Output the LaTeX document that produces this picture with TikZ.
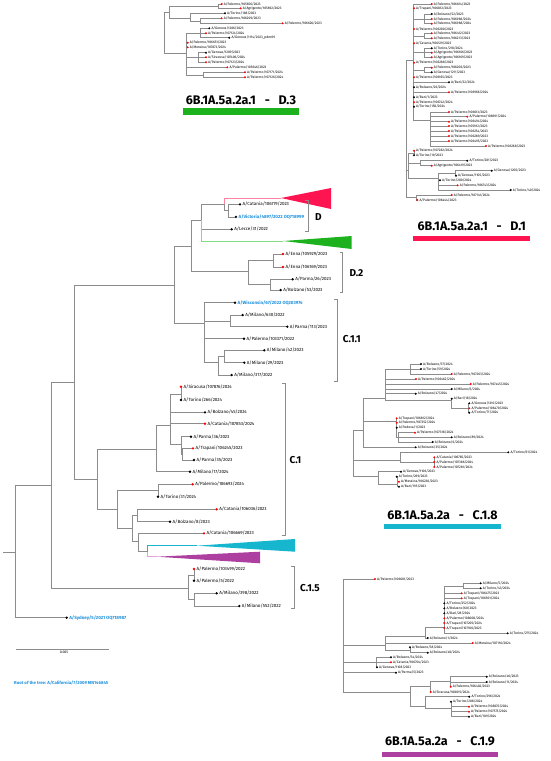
\documentclass[tikz,border=0pt]{standalone}
\usepackage{fontspec}
\setmainfont{Fira Sans}
\usetikzlibrary{positioning}
\definecolor{brgray}{RGB}{140,140,140}
\definecolor{labblue}{RGB}{30,144,220}
\definecolor{dred}{RGB}{255,20,82}
\definecolor{dredl}{RGB}{255,130,160}
\definecolor{dgreen}{RGB}{29,178,29}
\definecolor{dgreenl}{RGB}{130,220,130}
\definecolor{ccyan}{RGB}{22,182,207}
\definecolor{cmag}{RGB}{173,63,160}
\definecolor{cmagl}{RGB}{230,160,220}
\pgfdeclarelayer{bg}
\pgfsetlayers{bg,main}
\tikzset{
  br/.style={draw=brgray, line width=0.6pt},
  bk/.style={circle, fill=black, inner sep=0pt, minimum size=2.6pt},
  rd/.style={circle, fill=red, inner sep=0pt, minimum size=2.6pt},
  sbk/.style={bk, minimum size=2.2pt},
  srd/.style={rd, minimum size=2.2pt},
  lab/.style={anchor=west, inner sep=0.9pt, font=\fontsize{4.5}{5}\selectfont},
  blab/.style={lab, text=labblue, font=\fontsize{4.5}{5}\selectfont\bfseries},
  slab/.style={anchor=west, inner sep=0.7pt, font=\fontsize{3.4}{4}\selectfont},
  clade/.style={anchor=west, inner sep=0pt, font=\fontsize{10}{11}\selectfont\bfseries},
  brk/.style={draw=brgray, line width=0.7pt},
  head/.style={inner sep=0pt, font=\fontsize{12.5}{13}\selectfont\bfseries},
}
\newcommand{\gap}{\hspace{0.7em}-\hspace{0.7em}}

\begin{document}
\begin{tikzpicture}[x=1pt, y=-1pt]
\useasboundingbox (0,0) rectangle (550,761);

% main tree: inner nodes
\coordinate (stem) at (3,552);
\coordinate (n0) at (15,552);
\coordinate (n1) at (51,485.7);
\coordinate (n2) at (74,382.7);
\coordinate (n3) at (174,285);
\coordinate (nDD) at (191.7,246);
\coordinate (nD) at (201.7,220);
\coordinate (nX) at (224,204);
\coordinate (Dcv) at (228,210.5);
\coordinate (nD2) at (248,271.7);
\coordinate (nD2a) at (273,260);
\coordinate (nD2b) at (270.7,284.5);
\coordinate (nC11) at (204,323);
\coordinate (Ca) at (230,321);
\coordinate (Cb) at (218,362);
\coordinate (Cc) at (224,356.5);
\coordinate (nC1) at (97.7,479.3);
\coordinate (c1a) at (156.7,449.3);
\coordinate (c1b) at (170.7,425.7);
\coordinate (c1s) at (181,394);
\coordinate (c1p) at (181,444.3);
\coordinate (c1q) at (182.7,454);
\coordinate (c1c) at (117.3,509.3);
\coordinate (c1e) at (158,490.7);
\coordinate (c1d) at (132.3,528.3);
\coordinate (c1f) at (137.3,515);
\coordinate (c1g) at (138.3,541.7);
\coordinate (c1h) at (147.3,551.7);
\coordinate (n15) at (188.3,588.3);
\coordinate (c15p) at (194,575);
\coordinate (c15m) at (194.3,599.7);

% D.3 subtree
\coordinate (d3) at (164,33);
\coordinate (ua) at (169,12);
\coordinate (u1) at (218,6.2);
\coordinate (u2) at (190,18);
\coordinate (u3) at (200,20.8);
\coordinate (la) at (186,53);
\coordinate (l1) at (200,33.3);
\coordinate (l2) at (198,57.3);
\coordinate (l3) at (203,74.8);

% D.1 subtree
\coordinate (R) at (406.7,128);
\coordinate (T) at (413.3,60);
\coordinate (a1) at (424,19);
\coordinate (a2) at (424,35.8);
\coordinate (a3) at (424,52.7);
\coordinate (a4) at (424,70);
\coordinate (a5) at (430,120);
\coordinate (U) at (408.3,170);
\coordinate (b1) at (414,153);
\coordinate (b2) at (420,163);
\coordinate (b3) at (438.3,178.3);
\coordinate (b4) at (455,173.2);
\coordinate (V) at (416.7,197.5);

% C.1.8 subtree
\coordinate (R8) at (353.3,450);
\coordinate (N1) at (363.3,430);
\coordinate (g1) at (385,398);
\coordinate (g1a) at (410,369);
\coordinate (g1b) at (451.7,400);
\coordinate (g1c) at (468.3,408.3);
\coordinate (g2) at (396.7,421.7);
\coordinate (g3) at (398.3,437);
\coordinate (g4) at (400,460.7);
\coordinate (g5) at (434.3,462);
\coordinate (g6) at (378,476);
\coordinate (g7) at (397,484);

% C.1.9 subtree
\coordinate (R9) at (343.3,630);
\coordinate (h1) at (385,645);
\coordinate (h2) at (425,636);
\coordinate (h3) at (444.3,627);
\coordinate (h4) at (463,585.8);
\coordinate (h5) at (410,650);
\coordinate (h6) at (376,662);
\coordinate (h7) at (410,692);
\coordinate (h8) at (430,686);
\coordinate (h9) at (450.7,681.5);
\coordinate (h10) at (425,706);
\coordinate (h11) at (451,708);

\begin{pgfonlayer}{bg}
\draw[br] (stem) -- (n0);
\foreach \c/\p in {n1/n0, n2/n1, n3/n2, nDD/n3, nD/nDD, nX/nD, Dcv/nX, nD2/nDD,
    nD2a/nD2, nD2b/nD2, nC11/n3, Ca/nC11, Cb/nC11, Cc/Cb, nC1/n2, c1a/nC1,
    c1b/c1a, c1s/c1b, c1p/c1b, c1q/c1p, c1c/nC1, c1e/c1c, c1d/c1c, c1f/c1d,
    c1g/c1d, c1h/c1g, n15/n1, c15p/n15, c15m/n15,
    ua/d3, la/d3, u1/ua, u2/ua, u3/u2, l1/la, l2/la, l3/la,
    T/R, U/R, V/R, a1/T, a2/T, a3/T, a4/T, a5/T, b1/U, b2/U, b3/U, b4/b3,
    N1/R8, g4/R8, g6/R8, g1/N1, g2/N1, g1a/g1, g1b/g1, g1c/g1b, g3/g2, g5/g4, g7/g6,
    h1/R9, h6/R9, h7/R9, h2/h1, h5/h1, h3/h2, h4/h3, h8/h7, h10/h7, h9/h8, h11/h10}
  \draw[br] (\p) |- (\c);
\end{pgfonlayer}

% collapsed clades
\coordinate (tD1) at (281,198);
\coordinate (tD3) at (283.3,241);
\coordinate (tC18) at (196.7,545.7);
\coordinate (tC19) at (156.7,556.7);
\draw[dredl, line width=0.6pt] (nX) |- (tD1);
\draw[dgreenl, line width=0.6pt] (nD) |- (tD3);
\draw[ccyan, line width=0.6pt] (c1h) |- (tC18);
\draw[cmagl, line width=0.6pt] (c1h) |- (tC19);
\fill[dred] (tD1) -- ++(50,-10) -- ++(0,21) -- cycle;
\fill[dgreen] (tD3) -- (351.7,236) -- (351.7,249) -- cycle;
\fill[ccyan] (tC18) -- (295,539) -- (295,551.7) -- cycle;
\fill[cmag] (tC19) -- (260,551.7) -- (260,563.3) -- cycle;

% main tree leaves
\foreach \x/\y/\dc/\pa/\ls/\tx [count=\i] in {
  240/204.3/bk/Dcv/lab/{Catania/106779/2023},
  236/216.8/bk/Dcv/blab/{Victoria/4897/2022 OQ718999},
  231.7/229.3/bk/nD/lab/{Lecce/31/2022},
  283/254/rd/nD2a/lab/{Enna/105929/2023},
  283/267/rd/nD2a/lab/{Enna/106169/2023},
  292.7/279.3/bk/nD2b/lab/{Parma/26/2023},
  280.7/290/bk/nD2b/lab/{Bolzano/53/2023},
  235/302.7/bk/nC11/blab/{Wisconsin/67/2022 OQ203974},
  242.7/315/bk/Ca/lab/{Milano/630/2022},
  287.3/326.7/bk/Ca/lab/{Parma/113/2023},
  244/338.7/bk/nC11/lab/{Palermo/103371/2022},
  264.3/350.3/bk/Cc/lab/{Milano/42/2023},
  244.3/362.7/bk/Cc/lab/{Milano/29/2023},
  231.7/375/bk/Cb/lab/{Milano/317/2022},
  181/386.7/rd/c1s/lab/{Siracusa/107876/2024},
  181/400/bk/c1s/lab/{Torino/266/2024},
  205/412.3/bk/c1b/lab/{Bolzano/45/2024},
  205/423.7/rd/c1b/lab/{Catania/107853/2024},
  191/436.7/bk/c1p/lab/{Parma/36/2023},
  193/448.3/rd/c1q/lab/{Trapani/106245/2023},
  194/460/bk/c1q/lab/{Parma/35/2023},
  190/471.7/bk/c1a/lab/{Milano/17/2024},
  192.7/484.3/rd/c1e/lab/{Palermo/106693/2024},
  158/496.7/bk/c1e/lab/{Torino/31/2024},
  216.7/509.3/rd/c1f/lab/{Catania/106036/2023},
  170/521.7/bk/c1f/lab/{Bolzano/8/2023},
  204/533.3/rd/c1g/lab/{Catania/106669/2023},
  194/569/rd/c15p/lab/{Palermo/103499/2022},
  194/580.7/bk/c15p/lab/{Palermo/5/2022},
  216.7/593.3/bk/c15m/lab/{Milano/398/2022},
  239.3/606/bk/c15m/lab/{Milano/552/2022},
  66.7/617.7/bk/n0/blab/{Sydney/5/2021 OQ718987}} {
  \coordinate (mL\i) at (\x,\y);
  \begin{pgfonlayer}{bg}\draw[br] (\pa) |- (mL\i);\end{pgfonlayer}
  \node[\dc] (mD\i) at (mL\i) {};
  \node[\ls] (mT\i) at (mD\i.east) {A/\tx};
}

% subtree leaves
\foreach \x/\y/\dc/\pa/\tx [count=\i] in {
  221.7/4/srd/u1/{Palermo/105656/2023},
  240.7/8.3/srd/u1/{Agrigento/105692/2023},
  225/13.3/sbk/u2/{Torino/188/2023},
  221.7/18.3/srd/u3/{Palermo/106209/2023},
  282.7/23.3/srd/u3/{Palermo/106626/2023},
  209.3/28.3/sbk/l1/{Genova/1206/2023},
  206/33.3/srd/l1/{Palermo/107124/2024},
  229.3/37.7/sbk/l1/{Genova/1114/2023\_pdm09},
  187.7/42.7/srd/la/{Palermo/106651/2023},
  187.7/47.3/srd/la/{Messina/107873/2024},
  206/52.7/sbk/l2/{Genova/1209/2023},
  206/57.3/srd/l2/{Siracusa/107406/2024},
  206/62.3/srd/l2/{Palermo/107123/2024},
  227.3/67.3/srd/la/{Palermo/105646/2023},
  245/72.3/srd/l3/{Palermo/107171/2024},
  245/77.3/srd/l3/{Palermo/107126/2024},
  431.7/4/srd/T/{Palermo/106614/2023},
  414/8.3/srd/T/{Trapani/106812/2023},
  431.7/14/sbk/a1/{Bolzano/52/2023},
  431.7/19/srd/a1/{Palermo/106986/2024},
  431.7/23.7/srd/a1/{Palermo/106988/2024},
  414/29/srd/T/{Palermo/106200/2023},
  431.7/33.3/srd/a2/{Palermo/106412/2023},
  431.7/38.3/srd/a2/{Palermo/106213/2023},
  414/43.3/srd/T/{Catania/106129/2023},
  431.7/48.3/sbk/a3/{Torino/218/2024},
  431.7/52.7/srd/a3/{Agrigento/106166/2023},
  431.7/57.3/srd/a3/{Agrigento/106169/2023},
  414/62.7/srd/T/{Palermo/106288/2023},
  431.7/67.7/srd/a4/{Palermo/106206/2023},
  431.7/72.3/sbk/a4/{Genova/1211/2023},
  414/77.3/srd/T/{Palermo/106165/2023},
  449/82.3/sbk/T/{Bari/22/2024},
  414/87.3/sbk/T/{Bolzano/26/2024},
  449/92.3/srd/T/{Palermo/106966/2024},
  414/97.3/sbk/T/{Bari/1/2023},
  414/102.3/srd/T/{Palermo/106742/2024},
  414/106.7/sbk/T/{Torino/158/2024},
  449/112/srd/a5/{Palermo/106613/2023},
  467.3/116.7/srd/a5/{Palermo/106691/2024},
  449/121.7/srd/a5/{Palermo/106494/2024},
  449/126/srd/a5/{Palermo/105912/2023},
  449/131/srd/a5/{Palermo/106254/2023},
  449/136/srd/a5/{Palermo/106289/2023},
  449/141/srd/a5/{Palermo/106495/2023},
  486/146/srd/a5/{Palermo/106268/2023},
  414/150.7/srd/b1/{Palermo/107282/2024},
  414/155.3/sbk/b1/{Torino/19/2023},
  467.3/160.7/sbk/b2/{Torino/281/2023},
  431.7/165.7/srd/b2/{Agrigento/106419/2023},
  491.7/170.7/sbk/b4/{Genova/1205/2023},
  456/175.7/sbk/b4/{Genova/1105/2023},
  440/180.3/sbk/b3/{Torino/280/2024},
  457.7/185.3/srd/b3/{Palermo/106743/2024},
  510.7/190/sbk/b3/{Torino/40/2024},
  451.7/195/srd/V/{Palermo/107141/2024},
  417.3/200/srd/V/{Palermo/106444/2023},
  421/364/sbk/g1a/{Bolzano/37/2024},
  421/369/sbk/g1a/{Torino/59/2024},
  451.7/374/srd/g1a/{Palermo/107263/2024},
  416/379/srd/g1/{Palermo/106462/2024},
  470.7/384/srd/g1/{Palermo/107445/2024},
  451.7/389/sbk/g1/{Milano/6/2024},
  415.7/393.7/sbk/g1/{Bolzano/47/2024},
  451.7/398.7/sbk/g1b/{Bari/18/2024},
  469.3/403.3/sbk/g1c/{Genova/1210/2023},
  469.3/408.3/srd/g1c/{Palermo/106470/2024},
  469.3/412.7/sbk/g1c/{Torino/71/2024},
  396.7/418.3/srd/g2/{Trapani/106812/2024},
  396.7/422.7/srd/g2/{Palermo/107352/2024},
  396.7/427.7/sbk/g2/{Padova/1/2023},
  415/432.7/srd/g3/{Palermo/107318/2024},
  451.7/437.3/sbk/g3/{Bolzano/89/2024},
  432.7/442/sbk/g3/{Bolzano/6/2024},
  415.7/447.3/sbk/N1/{Bolzano/35/2024},
  508.3/452.3/sbk/g4/{Torino/61/2024},
  434.3/457.3/srd/g5/{Catania/106785/2023},
  434.3/462/srd/g5/{Palermo/107386/2024},
  434.3/467/srd/g5/{Palermo/107281/2024},
  401/471.7/sbk/g6/{Genova/1106/2023},
  396.7/476.7/sbk/g7/{Torino/269/2023},
  399/481.7/srd/g7/{Messina/106230/2023},
  399/486.7/sbk/g7/{Bari/195/2023},
  375/579/srd/R9/{Palermo/106601/2023},
  480.7/583.3/sbk/h4/{Milano/5/2024},
  480.7/588.3/sbk/h4/{Torino/43/2024},
  461.7/593.3/srd/h3/{Trapani/106475/2023},
  461.7/598.3/srd/h3/{Trapani/106501/2024},
  444.3/603.3/sbk/h3/{Torino/252/2024},
  444.3/608.3/sbk/h3/{Bolzano/60/2023},
  444.3/613.3/sbk/h3/{Bari/28/2024},
  444.3/618.3/srd/h3/{Palermo/108000/2024},
  444.3/623/srd/h3/{Trapani/107205/2024},
  444.3/628/srd/h3/{Trapani/107166/2023},
  507.7/633.3/sbk/h3/{Torino/275/2024},
  427.7/638/sbk/h2/{Bolzano/1/2024},
  472.7/643/srd/h1/{Messina/107116/2024},
  410/647.3/sbk/h5/{Bolzano/38/2024},
  427.7/652.7/sbk/h5/{Bolzano/48/2024},
  391/657.3/sbk/h6/{Bolzano/34/2024},
  391/662.3/srd/h6/{Catania/106704/2023},
  377/667.3/sbk/h6/{Genova/1108/2023},
  396/672.7/sbk/R9/{Parma/5/2023},
  486.7/676.7/sbk/h9/{Bolzano/46/2023},
  486.7/682/sbk/h9/{Bolzano/11/2024},
  450.7/686.7/srd/h9/{Palermo/106402/2023},
  430.7/692/srd/h8/{Siracusa/108015/2024},
  469.3/696.7/sbk/h10/{Torino/296/2024},
  451/701.7/sbk/h11/{Torino/208/2024},
  469/706.7/srd/h11/{Palermo/108070/2024},
  469/711.7/srd/h11/{Palermo/107575/2024},
  469/716.7/sbk/h11/{Bari/109/2024}} {
  \coordinate (sL\i) at (\x,\y);
  \begin{pgfonlayer}{bg}\draw[br] (\pa) |- (sL\i);\end{pgfonlayer}
  \node[\dc] (sD\i) at (sL\i) {};
  \node[slab] (sT\i) at (sD\i.east) {A/\tx};
}

% clade brackets and names
\draw[brk] (305.3,200) -- (308.3,200) -- (308.3,231.7) -- (305.3,231.7);
\node[clade] (kD) at (315,216.8) {D};
\draw[brk] (339.7,252.7) -- (342.7,252.7) -- (342.7,292.3) -- (339.7,292.3);
\node[clade] (kD2) at (349.3,272.7) {D.2};
\draw[brk] (334.3,299.3) -- (337.3,299.3) -- (337.3,381.7) -- (334.3,381.7);
\node[clade] (kC11) at (342.7,339.3) {C.1.1};
\draw[brk] (282,383.3) -- (285,383.3) -- (285,535) -- (282,535);
\node[clade] (kC1) at (289.3,460) {C.1};
\draw[brk] (291.3,566.7) -- (294.3,566.7) -- (294.3,608.3) -- (291.3,608.3);
\node[clade] (kC15) at (300,588.3) {C.1.5};

% subtree headings
\node[head] (hD3) at (241,100) {6B.1A.5a.2a.1\gap D.3};
\fill[dgreen] (182.7,108.3) rectangle (299.3,115);
\node[head] (hD1) at (471.8,226) {6B.1A.5a.2a.1\gap D.1};
\fill[dred] (413.3,235.7) rectangle (530,241);
\node[head] (hC18) at (442.5,515) {6B.1A.5a.2a\gap C.1.8};
\fill[ccyan] (384,524.3) rectangle (500.7,529);
\node[head] (hC19) at (440,741.7) {6B.1A.5a.2a\gap C.1.9};
\fill[cmag] (381.7,751.7) rectangle (498.3,757.3);

% scale and root note
\draw[br] (16,649) -- (109.3,649);
\node[font=\fontsize{3.5}{4}\selectfont, inner sep=0pt] (scl) at (64,652.5) {0.005};
\node[anchor=west, inner sep=0pt, text=labblue, font=\fontsize{4.3}{5}\selectfont\bfseries]
  (rootnote) at (14,683.3) {Root of the tree: A/California/7/2009 MN146845};
\end{tikzpicture}
\end{document}
